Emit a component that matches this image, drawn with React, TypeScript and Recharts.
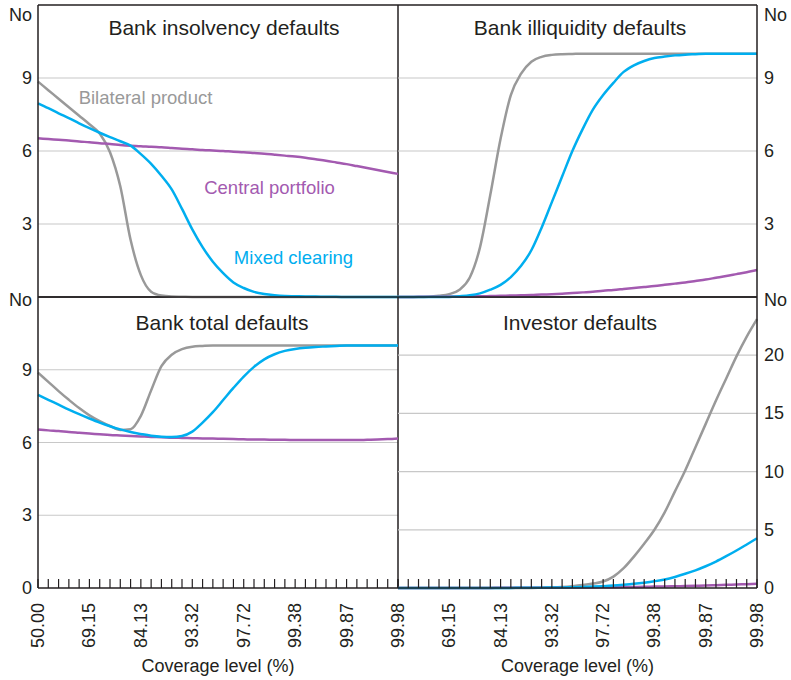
import React from 'react';
import { LineChart, Line, XAxis, YAxis, CartesianGrid, ReferenceLine } from 'recharts';

const FONT = "Arial, 'Liberation Sans', Helvetica, sans-serif";
const DARK = '#231f20';
const GRAY = '#999999';
const BLUE = '#00aeef';
const PURPLE = '#a35ab0';
const GRID = '#c8c8c8';

// x positions: standard-normal quantile z (0 .. 3.5, step 0.1)
const zValues = [0, 0.1, 0.2, 0.3, 0.4, 0.5, 0.6, 0.7, 0.8, 0.9, 1, 1.1, 1.2, 1.3, 1.4, 1.5, 1.6, 1.7, 1.8, 1.9, 2, 2.1, 2.2, 2.3, 2.4, 2.5, 2.6, 2.7, 2.8, 2.9, 3, 3.1, 3.2, 3.3, 3.4, 3.5];
const majorZ = [0, 0.5, 1, 1.5, 2, 2.5, 3, 3.5];
const coverageLabels = ['50.00', '69.15', '84.13', '93.32', '97.72', '99.38', '99.87', '99.98'];

// Bank insolvency defaults
const insolvencyBilateral = [8.85, 8.5, 8.15, 7.8, 7.45, 7.1, 6.72, 5.95, 4.55, 2.35, 0.9, 0.22, 0.06, 0.02, 0.01, 0, 0, 0, 0, 0, 0, 0, 0, 0, 0, 0, 0, 0, 0, 0, 0, 0, 0, 0, 0, 0];
const insolvencyMixed = [7.96, 7.76, 7.55, 7.35, 7.14, 6.94, 6.75, 6.57, 6.4, 6.22, 5.87, 5.47, 4.98, 4.42, 3.62, 2.78, 2.05, 1.45, 0.98, 0.6, 0.37, 0.21, 0.12, 0.07, 0.04, 0.03, 0.02, 0.02, 0.01, 0.01, 0, 0, 0, 0, 0, 0];
const insolvencyCentral = [6.52, 6.49, 6.46, 6.43, 6.39, 6.36, 6.32, 6.29, 6.25, 6.22, 6.2, 6.17, 6.15, 6.12, 6.09, 6.07, 6.04, 6.02, 6.0, 5.97, 5.95, 5.92, 5.89, 5.85, 5.81, 5.77, 5.72, 5.66, 5.6, 5.53, 5.46, 5.38, 5.3, 5.22, 5.14, 5.06];

// Bank illiquidity defaults
const illiquidityBilateral = [0, 0, 0, 0.01, 0.05, 0.12, 0.3, 0.8, 2.05, 4.2, 6.5, 8.3, 9.18, 9.67, 9.87, 9.95, 9.98, 9.99, 10, 10, 10, 10, 10, 10, 10, 10, 10, 10, 10, 10, 10, 10, 10, 10, 10, 10];
const illiquidityMixed = [0, 0, 0, 0, 0, 0, 0.03, 0.07, 0.15, 0.3, 0.5, 0.82, 1.28, 1.92, 2.85, 3.9, 4.95, 6.0, 6.9, 7.7, 8.3, 8.8, 9.25, 9.52, 9.7, 9.82, 9.88, 9.93, 9.96, 9.98, 10, 10, 10, 10, 10, 10];
const illiquidityCentral = [0, 0, 0.01, 0.01, 0.01, 0.02, 0.02, 0.03, 0.03, 0.04, 0.05, 0.06, 0.07, 0.08, 0.1, 0.11, 0.13, 0.16, 0.19, 0.22, 0.26, 0.29, 0.33, 0.37, 0.41, 0.45, 0.5, 0.55, 0.6, 0.66, 0.72, 0.79, 0.86, 0.94, 1.02, 1.11];

// Bank total defaults
const totalBilateral = [8.88, 8.5, 8.12, 7.76, 7.42, 7.12, 6.88, 6.68, 6.52, 6.55, 7.1, 8.15, 9.15, 9.62, 9.85, 9.95, 9.98, 10, 10, 10, 10, 10, 10, 10, 10, 10, 10, 10, 10, 10, 10, 10, 10, 10, 10, 10];
const totalMixed = [7.96, 7.76, 7.56, 7.36, 7.17, 6.99, 6.82, 6.67, 6.54, 6.43, 6.35, 6.28, 6.24, 6.23, 6.27, 6.45, 6.82, 7.25, 7.75, 8.25, 8.72, 9.12, 9.43, 9.64, 9.78, 9.86, 9.91, 9.94, 9.96, 9.98, 10, 10, 10, 10, 10, 10];
const totalCentral = [6.54, 6.5, 6.47, 6.43, 6.4, 6.37, 6.34, 6.31, 6.29, 6.27, 6.25, 6.23, 6.22, 6.2, 6.19, 6.18, 6.17, 6.16, 6.15, 6.14, 6.13, 6.12, 6.12, 6.11, 6.11, 6.1, 6.1, 6.1, 6.1, 6.1, 6.1, 6.1, 6.11, 6.12, 6.14, 6.17];

// Investor defaults
const investorBilateral = [0, 0, 0, 0, 0, 0, 0, 0, 0, 0, 0, 0, 0, 0, 0.02, 0.04, 0.08, 0.15, 0.25, 0.38, 0.56, 0.98, 1.7, 2.7, 3.8, 5.0, 6.5, 8.3, 10.1, 12.1, 14.1, 16.1, 18.0, 19.9, 21.6, 23.1];
const investorMixed = [0, 0, 0, 0, 0, 0, 0, 0, 0, 0, 0.01, 0.01, 0.02, 0.02, 0.03, 0.04, 0.05, 0.07, 0.09, 0.12, 0.16, 0.21, 0.28, 0.36, 0.46, 0.58, 0.73, 0.95, 1.22, 1.52, 1.87, 2.27, 2.73, 3.22, 3.74, 4.27];
const investorCentral = [0, 0, 0, 0, 0, 0.01, 0.01, 0.01, 0.01, 0.01, 0.02, 0.02, 0.02, 0.03, 0.03, 0.03, 0.04, 0.04, 0.05, 0.05, 0.06, 0.07, 0.08, 0.09, 0.1, 0.12, 0.13, 0.15, 0.17, 0.19, 0.21, 0.24, 0.27, 0.3, 0.33, 0.36];

const bankYTicks = [0, 3, 6, 9, 12];
const bankYTicksTop = [3, 6, 9, 12];
const investorYTicks = [0, 5, 10, 15, 20, 25];

function buildRows(b: number[], m: number[], c: number[]) {
  return zValues.map((z, i) => ({ z, bilateral: b[i], mixed: m[i], central: c[i] }));
}

function YTick(props: any) {
  const { x, y, payload, anchor, noDy, yMax } = props;
  const isTop = payload.value === yMax;
  return (
    <text x={x} y={y + (isTop ? noDy : 0)} textAnchor={anchor} dominantBaseline="central"
      fontSize={18} fontFamily={FONT} fill={DARK}>
      {isTop ? 'No' : payload.value}
    </text>
  );
}

function XTick(props: any) {
  const { x, y, payload, skipFirst } = props;
  const v = payload.value;
  const idx = majorZ.findIndex((m) => Math.abs(m - v) < 1e-6);
  const showLabel = idx >= 0 && !(skipFirst && idx === 0);
  return (
    <g>
      <line x1={x} x2={x} y1={y} y2={y - 9} stroke={DARK} strokeWidth={1.2} />
      {showLabel && (
        <text transform={`translate(${x},${y + 15}) rotate(-90)`} textAnchor="end" dominantBaseline="central"
          fontSize={18} fontFamily={FONT} fill={DARK}>
          {coverageLabels[idx]}
        </text>
      )}
    </g>
  );
}

type PanelProps = {
  left: number; top: number; width: number; height: number;
  margin: { top: number; right: number; bottom: number; left: number };
  rows: any[]; side: 'left' | 'right'; showX: boolean; yMax: number; yTicks: number[];
  gridValues: number[]; noDy: number; skipFirst?: boolean;
};

function Panel(p: PanelProps) {
  return (
    <div style={{ position: 'absolute', left: p.left, top: p.top }}>
      <LineChart width={p.width} height={p.height} data={p.rows} margin={p.margin}>
        <CartesianGrid vertical={false} horizontalValues={p.gridValues} stroke={GRID} strokeWidth={1.2} />
        <XAxis dataKey="z" type="number" domain={[0, 3.5]} ticks={zValues} interval={0}
          hide={!p.showX} height={92} axisLine={{ stroke: DARK, strokeWidth: 1.5 }} tickLine={false}
          tickSize={0} tickMargin={0}
          tick={(tp: any) => <XTick {...tp} skipFirst={p.skipFirst} />}
          label={{ value: 'Coverage level (%)', position: 'insideBottom', offset: 8, fill: DARK, fontSize: 18, fontFamily: FONT }}
        />
        <YAxis orientation={p.side} domain={[0, p.yMax]} ticks={p.yTicks} interval={0}
          width={p.side === 'left' ? 38 : 34} axisLine={{ stroke: DARK, strokeWidth: 1.5 }} tickLine={false}
          tickSize={0} tickMargin={p.side === 'left' ? 6 : 7}
          tick={(tp: any) => <YTick {...tp} anchor={p.side === 'left' ? 'end' : 'start'} noDy={p.noDy} yMax={p.yMax} />}
        />
        {!p.showX && <ReferenceLine y={0} stroke={DARK} strokeWidth={1.5} />}
        <ReferenceLine y={p.yMax} stroke={DARK} strokeWidth={1.5} />
        {p.side === 'left' && <ReferenceLine x={3.5} stroke={DARK} strokeWidth={1.5} />}
        <Line type="monotone" dataKey="bilateral" stroke={GRAY} strokeWidth={2.5} dot={false} isAnimationActive={false} />
        <Line type="monotone" dataKey="central" stroke={PURPLE} strokeWidth={2.5} dot={false} isAnimationActive={false} />
        <Line type="monotone" dataKey="mixed" stroke={BLUE} strokeWidth={2.5} dot={false} isAnimationActive={false} />
      </LineChart>
    </div>
  );
}

function TextAt({ x, y, size, color, children }: any) {
  return (
    <div style={{
      position: 'absolute', left: x, top: y, transform: 'translate(-50%, -50%)', whiteSpace: 'nowrap',
      fontFamily: FONT, fontSize: size, lineHeight: 1, color,
    }}>{children}</div>
  );
}

export default function App() {
  return (
    <div style={{ position: 'absolute', left: 0, top: 0, width: 791, height: 680, background: '#fff', overflow: 'hidden' }}>
      <Panel left={0} top={0} width={400} height={300} margin={{ top: 5, right: 2, bottom: 3, left: 0 }}
        rows={buildRows(insolvencyBilateral, insolvencyMixed, insolvencyCentral)} side="left" showX={false}
        yMax={12} yTicks={bankYTicksTop} gridValues={[3, 6, 9]} noDy={10} />
      <Panel left={396} top={0} width={395} height={300} margin={{ top: 5, right: 0, bottom: 3, left: 2 }}
        rows={buildRows(illiquidityBilateral, illiquidityMixed, illiquidityCentral)} side="right" showX={false}
        yMax={12} yTicks={bankYTicksTop} gridValues={[3, 6, 9]} noDy={10} />
      <Panel left={0} top={280} width={414} height={400} margin={{ top: 17, right: 16, bottom: 0, left: 0 }}
        rows={buildRows(totalBilateral, totalMixed, totalCentral)} side="left" showX={true}
        yMax={12} yTicks={bankYTicks} gridValues={[3, 6, 9]} noDy={3} />
      <Panel left={396} top={280} width={395} height={400} margin={{ top: 17, right: 0, bottom: 0, left: 2 }}
        rows={buildRows(investorBilateral, investorMixed, investorCentral)} side="right" showX={true}
        yMax={25} yTicks={investorYTicks} gridValues={[5, 10, 15, 20]} noDy={3} skipFirst />

      <TextAt x={224} y={27} size={21} color={DARK}>Bank insolvency defaults</TextAt>
      <TextAt x={580} y={27} size={21} color={DARK}>Bank illiquidity defaults</TextAt>
      <TextAt x={222} y={322} size={21} color={DARK}>Bank total defaults</TextAt>
      <TextAt x={580} y={322} size={21} color={DARK}>Investor defaults</TextAt>

      <TextAt x={145.5} y={98} size={18.5} color={GRAY}>Bilateral product</TextAt>
      <TextAt x={269.5} y={188} size={18.5} color={PURPLE}>Central portfolio</TextAt>
      <TextAt x={293.5} y={258} size={18.5} color={BLUE}>Mixed clearing</TextAt>
    </div>
  );
}
